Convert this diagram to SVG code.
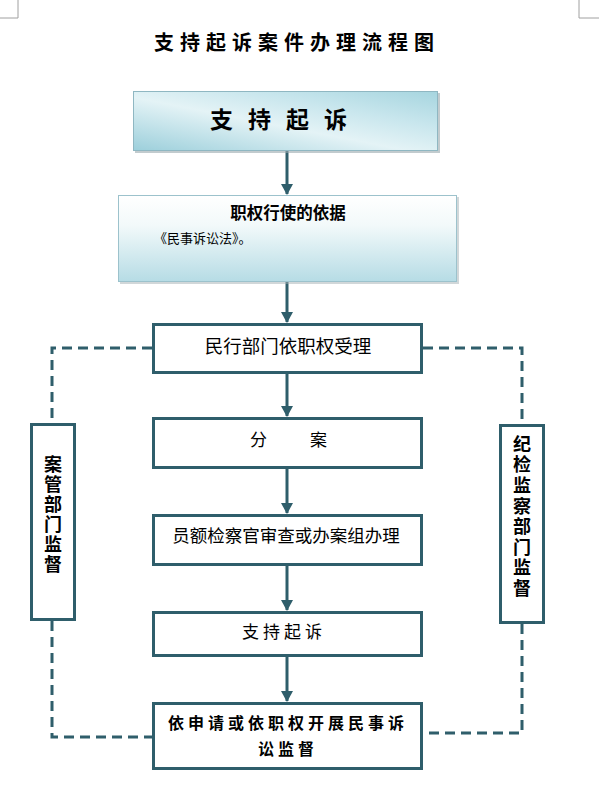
<svg xmlns="http://www.w3.org/2000/svg" width="599" height="785" viewBox="0 0 599 785">
<defs>
<style>
.t{font-family:"Noto Sans CJK SC","Liberation Sans",sans-serif;fill:#000;}
.v{writing-mode:vertical-rl;text-orientation:upright;}
.box{fill:#fff;stroke:#2f5e6b;stroke-width:3;}
.dash{fill:none;stroke:#2f5e6b;stroke-width:3;stroke-dasharray:10 6;}
.conn{fill:none;stroke:#2f5e6b;stroke-width:3;}
.crop{fill:none;stroke:#a0a0a0;stroke-width:1;}
</style>
<linearGradient id="g1" x1="0" y1="1" x2="1" y2="0">
<stop offset="0" stop-color="#9ccfdb"/>
<stop offset="0.45" stop-color="#e4f3f6"/>
<stop offset="0.7" stop-color="#c8e6ed"/>
<stop offset="1" stop-color="#a6d5df"/>
</linearGradient>
<linearGradient id="g2" x1="0" y1="0" x2="0" y2="1">
<stop offset="0" stop-color="#ffffff"/>
<stop offset="0.35" stop-color="#f2f9fa"/>
<stop offset="1" stop-color="#b6dce5"/>
</linearGradient>
<marker id="ah" viewBox="0 0 11 12" refX="10" refY="6" markerWidth="11" markerHeight="12" markerUnits="userSpaceOnUse" orient="auto">
<path d="M0,0 L11,6 L0,12 z" fill="#2f5e6b"/>
</marker>
</defs>
<rect width="599" height="785" fill="#fff"/>
<path class="crop" d="M18,0 V18 H0 M579,0 V18 H599"/>
<text class="t" x="297" y="50" text-anchor="middle" font-size="20" font-weight="bold" letter-spacing="6">支持起诉案件办理流程图</text>

<g id="connectors">
<path class="conn" d="M287,151 V194" marker-end="url(#ah)"/>
<path class="conn" d="M287,282 V322" marker-end="url(#ah)"/>
<path class="conn" d="M287,374 V416" marker-end="url(#ah)"/>
<path class="conn" d="M287,469 V513" marker-end="url(#ah)"/>
<path class="conn" d="M287,566 V610" marker-end="url(#ah)"/>
<path class="conn" d="M287,657 V701" marker-end="url(#ah)"/>
<path class="dash" d="M152,348 H52 V423"/>
<path class="dash" d="M52,621 V737 H152"/>
<path class="dash" d="M423,348 H522 V424"/>
<path class="dash" d="M522,624 V733 H423"/>
</g>

<g id="n1">
<rect x="135" y="93" width="305" height="60" fill="#9aa8ad" opacity="0.6"/>
<rect x="133.5" y="91.5" width="304" height="59" fill="url(#g1)" stroke="#8fb7c2" stroke-width="1"/>
<text class="t" x="286" y="128" text-anchor="middle" font-size="23" font-weight="bold" letter-spacing="15">支持起诉</text>
</g>

<g id="n2">
<rect x="120" y="197" width="339" height="87" fill="#a4b0b4" opacity="0.5"/>
<rect x="118.5" y="195.5" width="338" height="86" fill="url(#g2)" stroke="#9cc2cc" stroke-width="1"/>
<text class="t" x="288" y="219" text-anchor="middle" font-size="16.5" font-weight="bold">职权行使的依据</text>
<text class="t" x="154" y="243" font-size="13">《民事诉讼法》。</text>
</g>

<g id="n3">
<rect class="box" x="153.5" y="324.5" width="268" height="48"/>
<text class="t" x="288" y="353" text-anchor="middle" font-size="18.5">民行部门依职权受理</text>
</g>

<g id="n4">
<rect class="box" x="153.5" y="418.5" width="268" height="49"/>
<text class="t" x="250" y="446" font-size="17">分</text>
<text class="t" x="310" y="446" font-size="17">案</text>
</g>

<g id="n5">
<rect class="box" x="153.5" y="515.5" width="268" height="49"/>
<text class="t" x="286" y="542" text-anchor="middle" font-size="17.5">员额检察官审查或办案组办理</text>
</g>

<g id="n6">
<rect class="box" x="153.5" y="612.5" width="268" height="43"/>
<text class="t" x="284" y="638" text-anchor="middle" font-size="17" letter-spacing="4">支持起诉</text>
</g>

<g id="n7">
<rect class="box" x="153.5" y="703.5" width="268" height="65"/>
<text class="t" x="288" y="729" text-anchor="middle" font-size="16" font-weight="bold" letter-spacing="4">依申请或依职权开展民事诉</text>
<text class="t" x="288" y="755" text-anchor="middle" font-size="16" font-weight="bold" letter-spacing="4">讼监督</text>
</g>

<g id="n8">
<rect class="box" x="31.5" y="424.5" width="43" height="195"/>
<text class="t v" x="53" y="455" font-size="18" font-weight="bold" letter-spacing="2">案管部门监督</text>
</g>

<g id="n9">
<rect class="box" x="500.5" y="425.5" width="43" height="197"/>
<text class="t v" x="522" y="435" font-size="18" font-weight="bold" letter-spacing="2.6">纪检监察部门监督</text>
</g>
</svg>
